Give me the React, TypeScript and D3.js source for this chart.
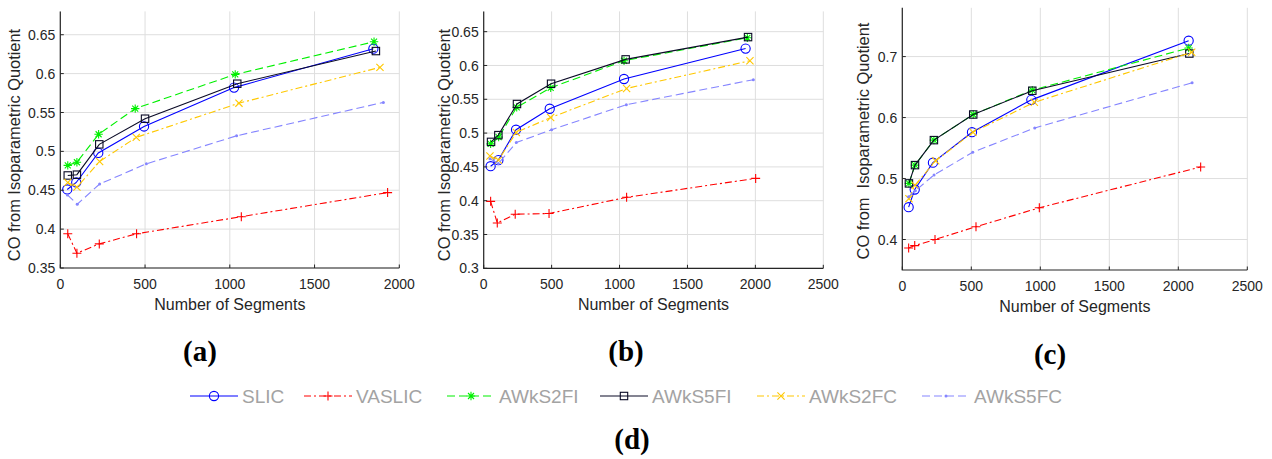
import React from "react";
import * as d3 from "d3";

// ---- data ----
const methods = ["SLIC", "VASLIC", "AWkS2FI", "AWkS5FI", "AWkS2FC", "AWkS5FC"];

// (a) number of segments / CO per method
const segA = [
  [41, 94, 224, 494, 1025, 1847],
  [44, 98, 230, 450, 1068, 1931],
  [44, 98, 226, 442, 1032, 1851],
  [44, 98, 230, 500, 1044, 1862],
  [44, 98, 232, 448, 1054, 1886],
  [42, 100, 232, 508, 1040, 1906],
];
const coA = [
  [0.451, 0.46, 0.498, 0.532, 0.582, 0.632],
  [0.394, 0.369, 0.381, 0.394, 0.416, 0.447],
  [0.482, 0.486, 0.522, 0.555, 0.599, 0.641],
  [0.469, 0.47, 0.509, 0.542, 0.587, 0.629],
  [0.46, 0.454, 0.487, 0.518, 0.562, 0.608],
  [0.444, 0.432, 0.458, 0.484, 0.52, 0.563],
];

// (b)
const segB = [
  [51, 108, 238, 486, 1033, 1928],
  [51, 100, 232, 481, 1052, 2002],
  [51, 110, 243, 493, 1033, 1941],
  [54, 108, 245, 496, 1045, 1946],
  [46, 108, 240, 493, 1052, 1960],
  [46, 108, 240, 500, 1050, 1985],
];
const coB = [
  [0.451, 0.46, 0.505, 0.536, 0.58, 0.625],
  [0.399, 0.367, 0.38, 0.381, 0.405, 0.433],
  [0.484, 0.494, 0.538, 0.567, 0.607, 0.641],
  [0.487, 0.497, 0.543, 0.573, 0.609, 0.642],
  [0.466, 0.46, 0.501, 0.523, 0.566, 0.607],
  [0.462, 0.455, 0.486, 0.505, 0.542, 0.579],
];

// (c)
const segC = [
  [46, 90, 222, 505, 935, 2075],
  [46, 90, 237, 534, 993, 2162],
  [48, 92, 229, 514, 942, 2075],
  [48, 92, 229, 514, 942, 2080],
  [48, 92, 242, 512, 957, 2097],
  [45, 95, 230, 510, 960, 2100],
];
const coC = [
  [0.453, 0.482, 0.526, 0.576, 0.629, 0.726],
  [0.386, 0.39, 0.4, 0.421, 0.452, 0.519],
  [0.492, 0.522, 0.563, 0.605, 0.645, 0.714],
  [0.492, 0.522, 0.563, 0.605, 0.644, 0.705],
  [0.467, 0.489, 0.529, 0.576, 0.625, 0.707],
  [0.47, 0.48, 0.506, 0.543, 0.583, 0.657],
];

const xTicksA = [0, 500, 1000, 1500, 2000];
const xTicksBC = [0, 500, 1000, 1500, 2000, 2500];
const yTicksA = [0.35, 0.4, 0.45, 0.5, 0.55, 0.6, 0.65];
const yTicksB = [0.3, 0.35, 0.4, 0.45, 0.5, 0.55, 0.6, 0.65];
const yTicksC = [0.4, 0.5, 0.6, 0.7];

// ---- styles ----
const styles = [
  { color: "#0000ff", dash: "none", marker: "o" },
  { color: "#ff0000", dash: "7,3,2,3", marker: "+" },
  { color: "#00f000", dash: "8,4", marker: "*" },
  { color: "#0a0a26", dash: "none", marker: "s" },
  { color: "#ffc800", dash: "7,3,2,3", marker: "x" },
  { color: "#8585ff", dash: "8,4", marker: "." },
];

const panels = [
  { seg: segA, co: coA, xMax: 2000, yDom: [0.35, 0.68], xTicks: xTicksA, yTicks: yTicksA,
    left: 60.3, right: 399.3, top: 11.4, bottom: 268, ylabel: "CO from Isoparametric Quotient", yLabX: 19.5, yLabY: 145, tag: "(a)", tagX: 200, tagY: 361 },
  { seg: segB, co: coB, xMax: 2500, yDom: [0.3, 0.68], xTicks: xTicksBC, yTicks: yTicksB,
    left: 483.7, right: 823.3, top: 11.4, bottom: 268.3, ylabel: "CO from Isoparametric Quotient", yLabX: 449.5, yLabY: 145, tag: "(b)", tagX: 626, tagY: 361 },
  { seg: segC, co: coC, xMax: 2500, yDom: [0.35, 0.78], xTicks: xTicksBC, yTicks: yTicksC,
    left: 902.3, right: 1247.3, top: 7.8, bottom: 270, ylabel: "CO from  Isoparametric Quotient", yLabX: 868.5, yLabY: 141, tag: "(c)", tagX: 1050, tagY: 364 },
];

const legendX = [190, 304, 447, 600, 757, 922];

const sans = "'Liberation Sans', Arial, Helvetica, sans-serif";
const serif = "'Liberation Serif', 'Times New Roman', serif";
const axisCol = "#262626";

function Marker({ type, x, y, color }: { type: string; x: number; y: number; color: string }) {
  const p = { stroke: color, strokeWidth: 1.1, fill: "none" };
  if (type === "o") return <circle cx={x} cy={y} r={4.6} {...p} />;
  if (type === "s") return <rect x={x - 3.7} y={y - 3.7} width={7.4} height={7.4} {...p} />;
  if (type === "+")
    return <path d={`M${x - 4.5},${y}H${x + 4.5}M${x},${y - 4.5}V${y + 4.5}`} {...p} />;
  if (type === "x")
    return <path d={`M${x - 3.6},${y - 3.6}L${x + 3.6},${y + 3.6}M${x - 3.6},${y + 3.6}L${x + 3.6},${y - 3.6}`} {...p} />;
  if (type === "*")
    return (
      <path
        d={`M${x - 4.2},${y}H${x + 4.2}M${x},${y - 4.2}V${y + 4.2}M${x - 3},${y - 3}L${x + 3},${y + 3}M${x - 3},${y + 3}L${x + 3},${y - 3}`}
        {...p}
      />
    );
  return <circle cx={x} cy={y} r={1.5} fill={color} />;
}

function Panel({ cfg }: { cfg: (typeof panels)[number] }) {
  const x = d3.scaleLinear().domain([0, cfg.xMax]).range([cfg.left, cfg.right]);
  const y = d3.scaleLinear().domain(cfg.yDom).range([cfg.bottom, cfg.top]);
  const fmt = (v: number) => String(+v.toFixed(2));
  return (
    <g>
      {/* grid */}
      {cfg.xTicks.map((t) => (
        <line key={"gx" + t} x1={x(t)} x2={x(t)} y1={cfg.top} y2={cfg.bottom} stroke="#dedede" strokeWidth={1} />
      ))}
      {cfg.yTicks.map((t) => (
        <line key={"gy" + t} x1={cfg.left} x2={cfg.right} y1={y(t)} y2={y(t)} stroke="#dedede" strokeWidth={1} />
      ))}
      {/* series */}
      {cfg.seg.map((xs, i) => {
        const pts = xs.map((v, j) => [x(v), y(cfg.co[i][j])] as [number, number]);
        const path = d3.line()(pts) || "";
        const st = styles[i];
        return (
          <g key={methods[i]}>
            <path d={path} fill="none" stroke={st.color} strokeWidth={1.1} strokeDasharray={st.dash} />
            {pts.map((p, j) => (
              <Marker key={j} type={st.marker} x={p[0]} y={p[1]} color={st.color} />
            ))}
          </g>
        );
      })}
      {/* axes */}
      <path
        d={`M${cfg.left},${cfg.top}V${cfg.bottom}H${cfg.right}`}
        fill="none"
        stroke={axisCol}
        strokeWidth={1.2}
      />
      {cfg.xTicks.map((t) => (
        <g key={"xt" + t}>
          <line x1={x(t)} x2={x(t)} y1={cfg.bottom} y2={cfg.bottom - 3.5} stroke={axisCol} />
          <text x={x(t)} y={cfg.bottom + 21} textAnchor="middle" fontSize={14} fontFamily={sans} fill={axisCol}>
            {t}
          </text>
        </g>
      ))}
      {cfg.yTicks.map((t) => (
        <g key={"yt" + t}>
          <line x1={cfg.left} x2={cfg.left + 3.5} y1={y(t)} y2={y(t)} stroke={axisCol} />
          <text x={cfg.left - 5} y={y(t)} dy="0.36em" textAnchor="end" fontSize={14} fontFamily={sans} fill={axisCol}>
            {fmt(t)}
          </text>
        </g>
      ))}
      <text
        x={(cfg.left + cfg.right) / 2}
        y={cfg.bottom + 42}
        textAnchor="middle"
        fontSize={16}
        fontFamily={sans}
        fill={axisCol}
      >
        Number of Segments
      </text>
      <text
        transform={`translate(${cfg.yLabX},${cfg.yLabY}) rotate(-90)`}
        textAnchor="middle"
        fontSize={16.4}
        fontFamily={sans}
        fill={axisCol}
        style={{ whiteSpace: "pre" }}
      >
        {cfg.ylabel}
      </text>
      <text x={cfg.tagX} y={cfg.tagY} textAnchor="middle" fontSize={29} fontWeight="bold" fontFamily={serif} fill="#000">
        {cfg.tag}
      </text>
    </g>
  );
}

export default function App() {
  const ly = 396;
  return (
    <div style={{ position: "absolute", left: 0, top: 0 }}>
      <svg width={1272} height={459} style={{ display: "block", background: "#fff" }}>
        {panels.map((p) => (
          <Panel key={p.tag} cfg={p} />
        ))}
        {methods.map((m, i) => {
          const st = styles[i];
          const x0 = legendX[i];
          return (
            <g key={m}>
              <line x1={x0} x2={x0 + 48} y1={ly} y2={ly} stroke={st.color} strokeWidth={1.1} strokeDasharray={st.dash} />
              <Marker type={st.marker} x={x0 + 24} y={ly} color={st.color} />
              <text x={x0 + 52} y={ly} dy="0.36em" fontSize={19} fontFamily={sans} fill="#a3a3a3">
                {m}
              </text>
            </g>
          );
        })}
        <text x={632} y={449} textAnchor="middle" fontSize={29} fontWeight="bold" fontFamily={serif} fill="#000">
          (d)
        </text>
      </svg>
    </div>
  );
}
